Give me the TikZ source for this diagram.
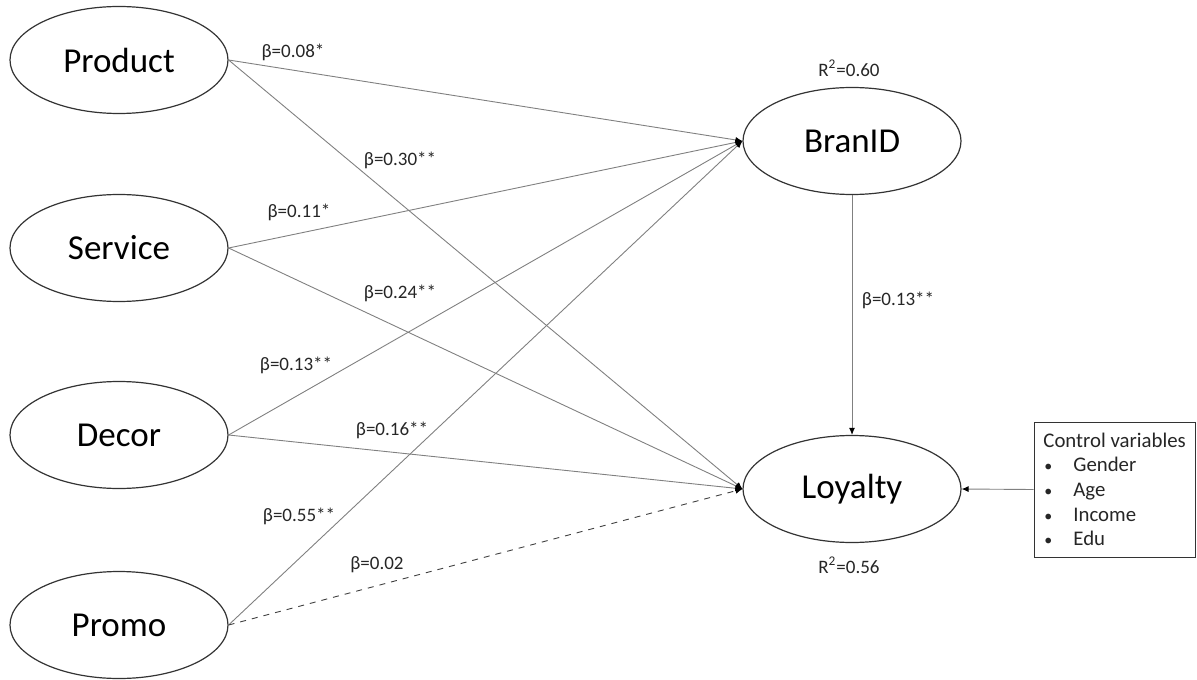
\documentclass[tikz,border=0pt]{standalone}
\usepackage{fontspec}
\setmainfont{Carlito}
\usetikzlibrary{arrows.meta,shapes.geometric}
\begin{document}
\begin{tikzpicture}[x=0.5pt,y=-0.5pt,
  latent/.style={ellipse,draw=black!80,line width=0.6pt,minimum width=109pt,minimum height=53.5pt,inner sep=0pt,font=\fontsize{17.5}{20}\selectfont},
  path/.style={draw=black!50,line width=0.45pt,-{Latex[length=3.5pt,width=3pt,color=black]}},
  coef/.style={font=\fontsize{9.5}{11}\selectfont,text=black!85,inner sep=0pt},
  ctext/.style={font=\fontsize{10.4}{12}\selectfont,text=black!85,inner sep=0pt,anchor=base west}]
\useasboundingbox (0,0) rectangle (1197,679);
\node[latent] (prod) at (119,60) {Product};
\node[latent] (serv) at (119,248) {Service};
\node[latent] (deco) at (119,435) {Decor};
\node[latent] (prom) at (119,625) {Promo};
\node[latent] (bran) at (852,141) {BranID};
\node[latent] (loya) at (852,489) {Loyalty};
\node[draw=black!80,line width=0.5pt,minimum width=80.5pt,minimum height=67.5pt,inner sep=0pt] (ctrl) at (1114.5,489.5) {};
\node[ctext] (ct) at (1043,447) {Control variables};
\foreach \t/\y [count=\i] in {Gender/471,Age/496,Income/521,Edu/545}{
  \node[ctext,font=\fontsize{8}{10}\selectfont] (b\i) at (1044,\y) {\textbullet};
  \node[ctext] (i\i) at (1073,\y) {\t};
}
% paths
\draw[path] (prod.east) -- (bran.west);
\draw[path] (prod.east) -- (loya.west);
\draw[path] (serv.east) -- (bran.west);
\draw[path] (serv.east) -- (loya.west);
\draw[path] (deco.east) -- (bran.west);
\draw[path] (deco.east) -- (loya.west);
\draw[path] (prom.east) -- (bran.west);
\draw[path,dashed,draw=black!75] (prom.east) -- (loya.west);
\draw[path] (bran.south) -- (loya.north);
\draw[path] (ctrl.west) -- (loya.east);
% coefficients
\node[coef] (c1) at (293,52) {β=0.08*};
\node[coef] (c2) at (400,160) {β=0.30**};
\node[coef] (c3) at (299,212) {β=0.11*};
\node[coef] (c4) at (400,293) {β=0.24**};
\node[coef] (c5) at (296,365) {β=0.13**};
\node[coef] (c6) at (392,430) {β=0.16**};
\node[coef] (c7) at (299,516) {β=0.55**};
\node[coef] (c8) at (377,565) {β=0.02};
\node[coef] (c9) at (898,300) {β=0.13**};
\node[coef] (r1) at (849,68) {R\textsuperscript{2}=0.60};
\node[coef] (r2) at (849,565) {R\textsuperscript{2}=0.56};
\end{tikzpicture}
\end{document}
